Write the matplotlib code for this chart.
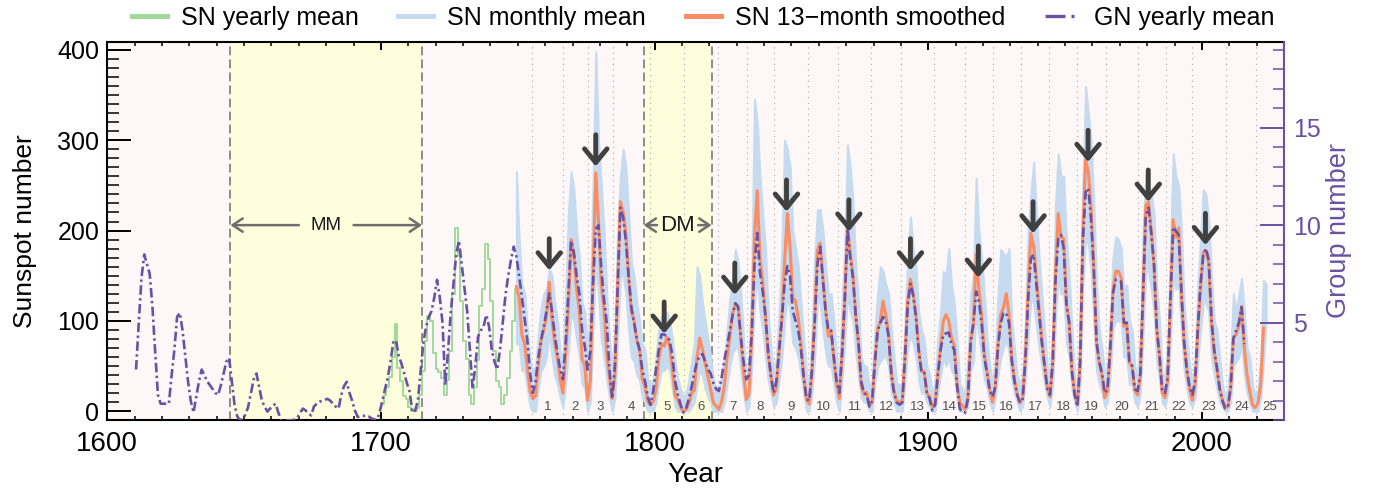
import numpy as np
import matplotlib
matplotlib.use('Agg')
import matplotlib.pyplot as plt
from matplotlib.lines import Line2D
from matplotlib.ticker import MultipleLocator

plt.rcParams['font.family'] = ['Liberation Sans', 'DejaVu Sans']

# ---------------- data ----------------
# SN yearly mean (shown 1700-1749)
sn_year_start = 1700
sn_yearly = [8.3, 18.3, 26.7, 38.3, 60.0, 96.7, 48.3, 33.3, 16.7, 13.3,
             5.0, 0.0, 0.0, 3.3, 18.3, 45.0, 78.3, 105.0, 100.0, 65.0,
             46.7, 43.3, 36.7, 18.3, 35.0, 66.7, 130.0, 203.3, 171.7, 121.7,
             78.3, 58.3, 18.3, 8.3, 26.7, 56.7, 116.7, 135.0, 185.0, 168.3,
             121.7, 66.7, 33.3, 26.7, 8.3, 18.3, 36.7, 66.7, 100.0, 134.8]

# SN monthly mean: yearly range (max / min of monthly values), 1749-2023
mon_year_start = 1749
mon_hi = [265,
          190, 140, 130, 90, 55, 45, 50, 85, 115, 130,
          135, 158, 150, 120, 100, 65, 60, 130, 220, 265,
          245, 200, 170, 120, 110, 60, 120, 250, 398, 300,
          250, 200, 130, 80, 45, 90, 200, 260, 290, 270,
          220, 165, 150, 120, 100, 75, 68, 35, 30, 35,
          60, 90, 105, 105, 110, 100, 80, 55, 35, 25,
          15, 20, 35, 55, 75, 160, 150, 120, 100, 80,
          60, 35, 25, 20, 40, 60, 90, 125, 145, 179,
          165, 130, 80, 35, 60, 150, 345, 320, 260, 220,
          180, 110, 70, 40, 60, 110, 180, 300, 290, 270,
          200, 180, 160, 120, 80, 40, 30, 90, 170, 223,
          223, 200, 160, 130, 130, 100, 60, 40, 120, 180,
          295, 270, 230, 160, 120, 60, 50, 50, 25, 35,
          90, 130, 160, 155, 140, 130, 90, 60, 30, 30,
          30, 100, 170, 215, 180, 160, 110, 90, 80, 50,
          40, 20, 30, 80, 110, 155, 150, 180, 140, 120,
          80, 30, 25, 20, 60, 130, 150, 258, 200, 170,
          130, 80, 50, 30, 60, 130, 179, 175, 170, 180,
          100, 70, 40, 30, 40, 100, 200, 240, 276, 220,
          170, 130, 90, 50, 40, 90, 230, 285, 260, 260,
          190, 150, 90, 40, 20, 100, 250, 359, 330, 300,
          230, 140, 90, 70, 40, 50, 100, 170, 193, 190,
          180, 130, 140, 100, 90, 50, 40, 80, 200, 262,
          250, 240, 220, 140, 100, 40, 40, 70, 180, 285,
          260, 250, 200, 120, 80, 50, 30, 60, 140, 190,
          245, 240, 210, 150, 100, 90, 60, 30, 15, 25,
          60, 130, 110, 130, 147, 110, 70, 60, 30, 15,
          25, 60, 145, 140]
mon_lo = [75,
          75, 45, 45, 25, 5, 0, 0, 25, 45, 50,
          60, 90, 60, 40, 30, 15, 5, 30, 65, 110,
          100, 80, 60, 30, 25, 0, 10, 90, 170, 130,
          80, 60, 35, 15, 0, 15, 80, 150, 150, 130,
          90, 60, 55, 40, 35, 15, 10, 0, 0, 0,
          10, 30, 45, 45, 50, 45, 25, 5, 0, 0,
          0, 0, 0, 5, 10, 30, 45, 40, 25, 15,
          10, 0, 0, 0, 0, 10, 30, 50, 65, 70,
          70, 45, 20, 0, 5, 50, 120, 150, 110, 90,
          60, 35, 20, 5, 10, 35, 60, 100, 130, 110,
          75, 70, 60, 40, 20, 0, 0, 20, 60, 120,
          120, 90, 65, 50, 50, 30, 10, 0, 35, 75,
          130, 110, 100, 65, 40, 15, 10, 10, 0, 0,
          30, 50, 55, 60, 60, 50, 20, 10, 0, 0,
          0, 30, 70, 85, 75, 60, 35, 20, 20, 10,
          5, 0, 0, 20, 40, 60, 50, 60, 45, 40,
          15, 0, 0, 0, 5, 45, 55, 110, 85, 60,
          35, 25, 10, 0, 15, 40, 60, 70, 80, 65,
          35, 20, 10, 0, 5, 35, 80, 125, 120, 95,
          70, 50, 30, 15, 5, 30, 100, 150, 130, 130,
          75, 60, 25, 10, 0, 30, 140, 190, 185, 155,
          100, 45, 30, 20, 5, 10, 40, 90, 100, 100,
          100, 60, 60, 30, 30, 10, 5, 20, 85, 155,
          155, 135, 110, 55, 35, 10, 5, 20, 80, 150,
          135, 140, 90, 45, 25, 10, 5, 15, 55, 90,
          120, 120, 110, 60, 40, 25, 10, 5, 0, 0,
          10, 50, 55, 60, 75, 40, 20, 10, 0, 0,
          0, 15, 55, 100]

# SN 13-month smoothed (sampled at mid-year), 1749-2022
sm_year_start = 1749
sn_smoothed = [138,
               125, 85, 75, 48, 22, 14, 17, 50, 78, 90,
               105, 143, 102, 75, 60, 35, 20, 63, 116, 190,
               172, 136, 111, 58, 51, 12, 33, 154, 264, 210,
               141, 113, 64, 38, 14, 40, 138, 232, 220, 197,
               150, 111, 100, 78, 68, 36, 27, 11, 7, 11,
               24, 57, 75, 72, 82, 72, 47, 17, 13, 4,
               0, 2, 8, 20, 23, 59, 81, 68, 53, 38,
               24, 9, 6, 2, 11, 28, 60, 83, 108, 119,
               117, 81, 44, 13, 19, 86, 193, 244, 169, 143,
               105, 63, 40, 18, 25, 66, 103, 166, 219, 182,
               126, 122, 103, 74, 39, 13, 8, 43, 104, 178,
               186, 147, 112, 83, 89, 58, 31, 14, 63, 124,
               204, 175, 150, 105, 75, 28, 19, 21, 6, 10,
               54, 90, 100, 122, 106, 86, 42, 22, 11, 10,
               12, 60, 122, 146, 130, 107, 69, 44, 44, 20,
               16, 5, 8, 41, 70, 100, 107, 100, 81, 73,
               31, 10, 6, 2, 16, 79, 95, 174, 135, 106,
               63, 44, 24, 10, 28, 74, 107, 115, 130, 108,
               59, 35, 19, 9, 15, 60, 133, 197, 183, 148,
               113, 79, 51, 27, 16, 55, 154, 219, 193, 191,
               119, 98, 45, 20, 7, 54, 201, 278, 265, 225,
               159, 76, 53, 40, 15, 22, 67, 133, 155, 155,
               148, 94, 98, 54, 49, 23, 18, 39, 131, 228,
               232, 199, 162, 91, 61, 21, 15, 34, 123, 212,
               192, 203, 133, 76, 45, 25, 12, 29, 88, 136,
               176, 178, 164, 99, 65, 46, 25, 13, 4, 5,
               25, 81, 85, 94, 116, 70, 40, 22, 7, 4,
               9, 30, 92]

# GN yearly mean (group number), 1610-2015
gn_year_start = 1610
gn_yearly = [2.6, 5.0, 7.3, 8.5, 8.0, 7.5, 5.8, 3.5, 1.3, 0.85,
             0.85, 0.85, 0.85, 2.3, 3.6, 5.3, 5.5, 4.6, 3.3, 2.0,
             1.0, 0.4, 1.2, 2.0, 2.6, 2.3, 2.0, 1.8, 1.6, 1.4,
             1.3, 1.8, 2.4, 3.0, 3.2, 2.0, 0.8, 0.2, 0.0, 0.1,
             0.3, 0.7, 1.4, 2.1, 2.4, 1.7, 1.0, 0.7, 0.45, 0.6,
             0.75, 0.85, 0.4, 0.0, 0.0, 0.0, 0.0, 0.0, 0.05, 0.15,
             0.4, 0.6, 0.5, 0.35, 0.25, 0.7, 0.85, 0.95, 1.0, 1.05,
             1.1, 1.0, 0.85, 0.7, 0.6, 1.3, 1.75, 1.97, 1.4, 1.0,
             0.5, 0.17, 0.2, 0.22, 0.25, 0.2, 0.1, 0.05, 0.0, 0.4,
             1.0, 1.6, 2.2, 3.0, 4.0, 4.1, 3.3, 2.9, 2.4, 1.9,
             1.45, 0.4, 0.5, 1.0, 2.5, 4.0, 4.8, 5.3, 5.6, 6.3,
             7.2, 6.3, 5.0, 1.8, 3.5, 5.5, 7.0, 8.5, 9.2, 8.0,
             6.8, 5.6, 3.6, 1.6, 2.8, 4.3, 4.6, 4.8, 5.4, 4.8,
             3.6, 3.0, 2.6, 3.6, 5.0, 6.4, 7.4, 8.2, 8.9, 8.4,
             7.4, 6.3, 5.2, 4.1, 2.4, 1.4, 2.0, 3.2, 4.1, 4.8,
             5.6, 6.5, 5.6, 4.4, 3.4, 2.6, 2.1, 4.0, 6.6, 9.2,
             8.6, 7.4, 6.5, 4.6, 3.8, 2.6, 3.5, 7.0, 9.8, 10.0,
             7.8, 6.2, 5.0, 2.6, 1.1, 2.8, 6.8, 10.9, 10.4, 9.2,
             7.4, 5.8, 5.0, 4.2, 3.6, 2.6, 2.0, 1.2, 0.8, 1.5,
             2.6, 3.6, 4.4, 4.4, 4.3, 4.1, 3.3, 2.0, 1.3, 0.8,
             0.4, 0.6, 1.1, 1.7, 2.4, 3.0, 3.3, 3.4, 3.0, 2.6,
             2.4, 1.9, 1.6, 1.5, 2.2, 3.1, 3.8, 4.6, 5.4, 6.0,
             5.8, 4.3, 3.0, 2.1, 2.3, 4.5, 8.0, 9.6, 7.6, 6.6,
             5.4, 3.5, 2.3, 1.4, 2.0, 3.6, 5.2, 7.0, 7.9, 7.4,
             5.6, 5.1, 4.6, 3.6, 2.2, 1.1, 1.0, 2.6, 5.0, 8.0,
             8.9, 7.2, 5.6, 4.6, 4.6, 3.2, 2.0, 1.4, 3.4, 6.2,
             9.8, 8.3, 7.3, 5.4, 4.0, 2.0, 1.4, 1.3, 0.7, 1.0,
             3.0, 4.6, 5.0, 5.3, 5.1, 4.3, 2.4, 1.4, 0.9, 0.8,
             0.9, 3.2, 5.9, 7.0, 6.4, 5.3, 3.6, 2.5, 2.5, 1.4,
             1.1, 0.5, 0.8, 2.3, 3.6, 4.4, 4.45, 4.5, 3.9, 3.6,
             1.8, 0.6, 0.4, 0.4, 1.1, 4.0, 5.0, 6.6, 6.1, 5.0,
             3.2, 2.4, 1.5, 1.2, 1.7, 3.8, 5.0, 5.5, 5.5, 5.0,
             3.1, 2.0, 1.3, 0.9, 1.1, 3.1, 6.2, 8.3, 8.5, 7.0,
             5.5, 4.0, 2.8, 1.6, 1.3, 3.0, 7.2, 9.3, 9.5, 8.8,
             5.9, 5.0, 2.5, 1.3, 0.7, 3.0, 9.2, 11.7, 11.9, 10.3,
             7.7, 4.0, 3.0, 2.4, 1.4, 1.6, 3.7, 6.5, 7.2, 7.2,
             7.1, 5.0, 5.0, 3.0, 2.8, 1.6, 1.5, 2.4, 6.5, 10.5,
             10.9, 9.6, 8.0, 4.7, 3.3, 1.5, 1.4, 2.2, 6.2, 9.9,
             9.7, 9.5, 6.6, 4.0, 2.6, 1.7, 1.3, 2.0, 4.7, 7.0,
             8.5, 8.8, 8.2, 5.2, 3.6, 2.7, 1.6, 1.0, 0.6, 0.7,
             1.7, 4.2, 4.6, 5.0, 5.8, 3.9]

# Solar cycle minima (years) and cycle numbers
cycle_minima = [1755.2, 1766.5, 1775.5, 1784.7, 1798.3, 1810.6, 1823.3, 1833.9,
                1843.5, 1855.9, 1867.2, 1878.9, 1890.2, 1902.0, 1913.6, 1923.6,
                1933.8, 1944.2, 1954.3, 1964.9, 1976.5, 1986.8, 1996.4, 2008.9,
                2019.9]
cycle_numbers = list(range(1, 26))

# Odd-cycle maxima marked by arrows (time, smoothed SN)
max_years = [1761.5, 1778.5, 1803.5, 1829.3, 1848.2, 1871.0,
             1893.5, 1918.3, 1938.3, 1958.4, 1980.4, 2001.3]
max_values = [156, 271, 86, 129, 221, 199, 156, 148, 197, 276, 232, 184]

# Grand minima
grand_minima = [("MM", 1645, 1715), ("DM", 1796, 1820.8)]

# ---------------- style ----------------
PURPLE = '#6a51a3'
GREEN = '#a1d99b'
BLUE = '#c6dbef'
ORANGE = '#fc8d62'
PINK = '#fdf8f7'
YELLOW = '#fefddc'
ARROWC = '#404040'
GRAYL = '#8c8c8c'

W, H = 1376, 493
fig = plt.figure(figsize=(W / 100, H / 100), dpi=100)
x0, x1, ytop, ybot = 107.3, 1284.0, 41.7, 420.3
ax = fig.add_axes([x0 / W, 1 - ybot / H, (x1 - x0) / W, (ybot - ytop) / H])
ax.set_facecolor(PINK)
ax.set_xlim(1600, 2030)
ax.set_ylim(-10, 409)

ARR_Y = 206
for name, a, b in grand_minima:
    ax.axvspan(a, b, color=YELLOW, lw=0, zorder=0.5)
    for xv in (a, b):
        ax.axvline(xv, color=GRAYL, lw=1.4, ls=(0, (4.5, 2.2)), zorder=1.5)
    mid = 0.5 * (a + b)
    half = 10 if name == "MM" else 7.5
    ax.text(mid, ARR_Y, name, ha='center', va='center',
            fontsize=13.5 if name == "MM" else 16, color='#1a1a1a', zorder=5)
    ap = dict(arrowstyle='->,head_length=0.36,head_width=0.24', color='#6e6e6e',
              lw=1.8, mutation_scale=20, shrinkA=0, shrinkB=0)
    ax.annotate('', xy=(a, ARR_Y), xytext=(mid - half, ARR_Y), arrowprops=ap, zorder=5)
    ax.annotate('', xy=(b, ARR_Y), xytext=(mid + half, ARR_Y), arrowprops=ap, zorder=5)

for m in cycle_minima:
    ax.axvline(m, color='#a8a8a8', lw=0.8, ls=(0, (1, 4)), zorder=1)

sn_x = sn_year_start + 0.5 + np.arange(len(sn_yearly))
mon_x = mon_year_start + 0.5 + np.arange(len(mon_hi))
sm_x = sm_year_start + 0.5 + np.arange(len(sn_smoothed))
gn_x = gn_year_start + 0.5 + np.arange(len(gn_yearly))

ax.plot(sn_x, sn_yearly, drawstyle='steps-mid', color=GREEN, lw=1.4, zorder=2)
ax.fill_between(mon_x, mon_lo, mon_hi, color=BLUE, edgecolor=BLUE, lw=1.5, zorder=2.2)
ax.plot(sm_x, sn_smoothed, color=ORANGE, lw=2.2, zorder=3)

# cycle numbers
centers = [0.5 * (cycle_minima[i] + cycle_minima[i + 1]) for i in range(len(cycle_minima) - 1)]
centers.append(cycle_minima[-1] + 5.0)
for c, n in zip(centers, cycle_numbers):
    ax.text(c, 5, str(n), ha='center', va='center', fontsize=9.5, color='#505050', zorder=6)

# axes styling
for s in ['left', 'top', 'bottom']:
    ax.spines[s].set_linewidth(1.5)
ax.spines['right'].set_visible(False)
ax.xaxis.set_major_locator(MultipleLocator(100))
ax.xaxis.set_minor_locator(MultipleLocator(10))
ax.yaxis.set_major_locator(MultipleLocator(100))
ax.yaxis.set_minor_locator(MultipleLocator(10))
ax.tick_params(axis='x', which='major', direction='in', length=5.8, width=1.4,
               top=True, bottom=True, labelsize=20, pad=7.5)
ax.tick_params(axis='x', which='minor', direction='in', length=3.0, width=1.1,
               top=True, bottom=True)
ax.tick_params(axis='y', which='major', direction='in', length=17, width=1.4,
               right=False, labelsize=18, pad=5.8)
ax.tick_params(axis='y', which='minor', direction='in', length=8.6, width=1.1, right=False)
ax.set_xlabel('Year', fontsize=20)
ax.xaxis.set_label_coords(0.5, -0.110)
ax.set_ylabel('Sunspot number', fontsize=19)
ax.yaxis.set_label_coords(-0.060, 0.5)

# GN axis
ax2 = ax.twinx()
ax2.set_ylim(0, 19.4)
ax2.plot(gn_x, gn_yearly, color=PURPLE, lw=1.9, ls=(0, (3.6, 1.3, 0.9, 1.3)), zorder=4)
for s in ['left', 'top', 'bottom']:
    ax2.spines[s].set_visible(False)
ax2.spines['right'].set_color(PURPLE)
ax2.spines['right'].set_linewidth(1.5)
ax2.set_yticks([5, 10, 15])
ax2.yaxis.set_minor_locator(MultipleLocator(1))
ax2.tick_params(axis='y', which='major', direction='in', length=17, width=1.4,
                colors=PURPLE, labelsize=18, pad=6.3)
ax2.tick_params(axis='y', which='minor', direction='in', length=8, width=1.1, colors=PURPLE)
ax2.set_ylabel('Group number', fontsize=19.5, color=PURPLE)
ax2.yaxis.set_label_coords(1.036, 0.5)

# arrows at cycle maxima
for xm, ym in zip(max_years, max_values):
    ax2.annotate('', xy=(xm, ym), xycoords=ax.transData,
                 xytext=(xm, ym + 35), textcoords=ax.transData,
                 arrowprops=dict(arrowstyle='->,head_length=0.55,head_width=0.45',
                                 color=ARROWC, lw=3.5, mutation_scale=18,
                                 shrinkA=0, shrinkB=0), zorder=8)

# legend
handles = [Line2D([], [], color=GREEN, lw=3.6),
           Line2D([], [], color=BLUE, lw=3.6),
           Line2D([], [], color=ORANGE, lw=3.6),
           Line2D([], [], color=PURPLE, lw=2.4, ls=(0, (6, 1.8, 0.9, 1.8)))]
labels = ['SN yearly mean', 'SN monthly mean', 'SN 13\u2212month smoothed', 'GN yearly mean']
fig.legend(handles, labels, loc='center', bbox_to_anchor=(703 / W, 1 - 18 / H),
           ncol=4, frameon=False, fontsize=18, handlelength=1.4,
           handletextpad=0.55, columnspacing=1.6, borderaxespad=0, borderpad=0)

fig.savefig('out.png', dpi=100)
